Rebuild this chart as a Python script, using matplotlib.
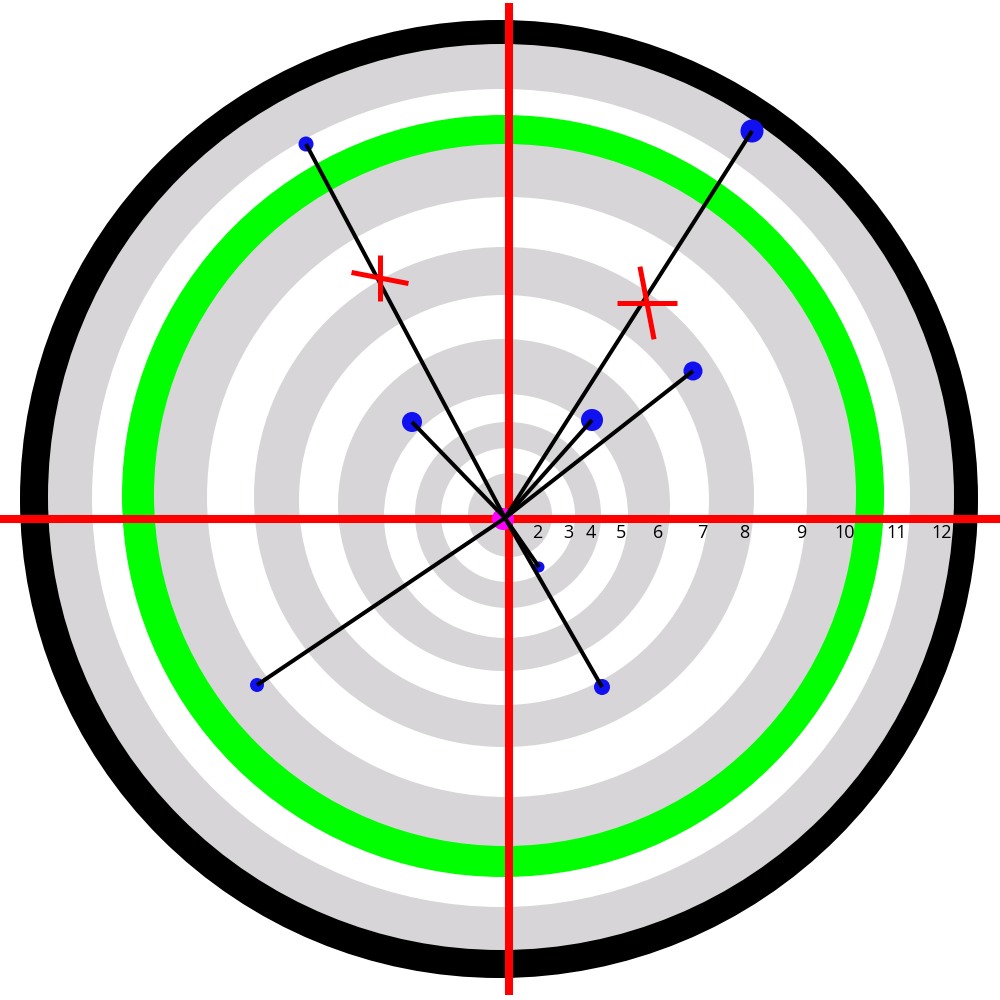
import matplotlib
matplotlib.use("Agg")
import matplotlib.pyplot as plt
from matplotlib.patches import Circle
import numpy as np

# ---- data (units: target units, origin at the aiming point, y up) ----
# ring boundary circles, outer to inner: centre x, centre y, radius, fill
ring_cx = [-6, -4, -4, -2, 0, 2, -1, -1, -1, 1, 3, 3, 5]
ring_cy = [19, 21, 20, 22, 23, 21, 21, 18, 13, 2, 3, 3, 3]
ring_r = [479, 453, 409, 381, 351, 300, 250, 205, 166, 122, 93, 67, 42]
ring_fill = ["black", "gray", "white", "green", "gray", "white", "gray",
             "white", "gray", "white", "gray", "white", "gray"]

# ring score labels along the horizontal axis
label_text = ["2", "3", "4", "5", "6", "7", "8", "9", "10", "11", "12"]
label_x = [32, 63, 86, 116, 153, 197, 239, 296, 340, 392, 437]
label_y = -15

# shots (blue dots) and their sizes
shot_x = [-199, 247, 188, 87, -93, 34, -248, 97]
shot_y = [374, 387, 147, 98, 96, -49, -167, -169]
shot_r = [7.5, 11.5, 9.5, 11, 10, 5.5, 7, 8]

# group means (red crosses): centre, arm half lengths, arm angles (deg)
cross_x = [-125, 142]
cross_y = [240, 215]
cross_len_a = [29, 30]
cross_ang_a = [-11, 0]
cross_len_b = [23, 37]
cross_ang_b = [90, 101]

# crosshair position
cross_hair_x = 4
cross_hair_y = -1

colors = {"black": "#000000", "gray": "#d7d5d7", "white": "#ffffff",
          "green": "#00ff00"}

fig = plt.figure(figsize=(10, 10), dpi=100)
ax = fig.add_axes([0, 0, 1, 1])
ax.set_xlim(-505, 495)
ax.set_ylim(-482, 518)
ax.set_aspect("equal")
ax.axis("off")

for cx, cy, r, f in zip(ring_cx, ring_cy, ring_r, ring_fill):
    ax.add_patch(Circle((cx, cy), r, facecolor=colors[f], edgecolor="none", zorder=1))

for t, x in zip(label_text, label_x):
    ax.text(x, label_y, t, ha="center", va="center", fontsize=13,
            family=["Open Sans", "DejaVu Sans"], color="black", zorder=2)

# crosshair
ax.plot([cross_hair_x, cross_hair_x], [515, -477], color="#ff0000", lw=5.8,
        solid_capstyle="butt", zorder=3)
ax.plot([-505, 495], [cross_hair_y, cross_hair_y], color="#ff0000", lw=5.8,
        solid_capstyle="butt", zorder=3)

# aiming point
ax.add_patch(Circle((-2, -1), 11, facecolor="#ff00ff", edgecolor="none", zorder=4))

# shots
for x, y, r in zip(shot_x, shot_y, shot_r):
    ax.add_patch(Circle((x, y), r, facecolor="#1010f0", edgecolor="none", zorder=5))
    ax.plot([0, x], [0, y], color="black", lw=2.9, solid_capstyle="butt", zorder=6)

# mean crosses
for x, y, la, aa, lb, ab in zip(cross_x, cross_y, cross_len_a, cross_ang_a,
                                 cross_len_b, cross_ang_b):
    for L, a in ((la, aa), (lb, ab)):
        dx, dy = L * np.cos(np.radians(a)), L * np.sin(np.radians(a))
        ax.plot([x - dx, x + dx], [y - dy, y + dy], color="#ff0000", lw=3.6,
                solid_capstyle="butt", zorder=7)

fig.savefig("out.png", dpi=100)
